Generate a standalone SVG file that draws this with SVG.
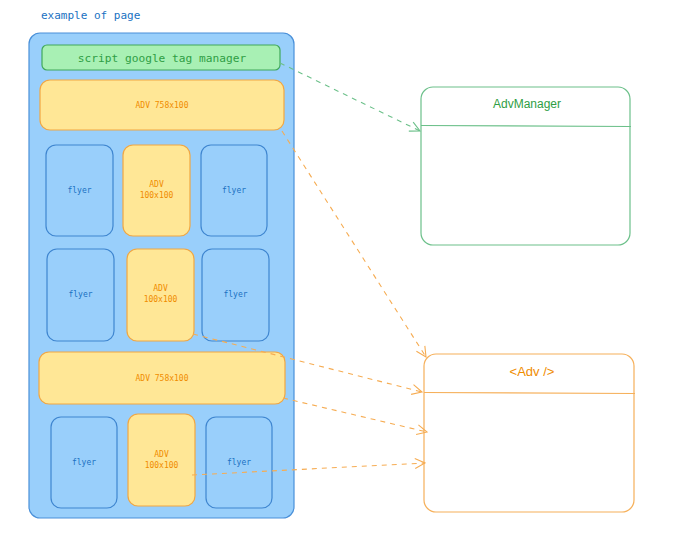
<svg xmlns="http://www.w3.org/2000/svg" width="691" height="547" viewBox="0 0 691 547">
<defs>
<style>
.mono{font-family:"DejaVu Sans Mono","Liberation Mono",monospace;}
.hand{font-family:"Liberation Sans",Arial,sans-serif;}
.page{fill:#99cffb;stroke:#4a90d9;stroke-width:1.2;}
.gtm{fill:#a8f0b4;stroke:#40a85a;stroke-width:1.2;}
.adv{fill:#ffe796;stroke:#f2a742;stroke-width:1.2;}
.fly{fill:#99cffb;stroke:#3f86d0;stroke-width:1.2;}
.lblB{fill:#1971c2;font-size:8px;text-anchor:middle;}
.lblO{fill:#f08c00;font-size:8px;text-anchor:middle;}
.grn{fill:none;stroke:#6cc08a;stroke-width:1.2;}
.org{fill:none;stroke:#f6b05a;stroke-width:1.2;}
.conn-g{fill:none;stroke:#6cc08a;stroke-width:1.1;stroke-dasharray:5 5;}
.conn-o{fill:none;stroke:#f6ac52;stroke-width:1.1;stroke-dasharray:5 5;}
</style>
<marker id="ag" viewBox="0 0 12 12" refX="11" refY="6" markerWidth="12" markerHeight="12" markerUnits="userSpaceOnUse" orient="auto">
<path d="M1,1 L11,6 L1,11" fill="none" stroke="#6cc08a" stroke-width="1.1"/>
</marker>
<marker id="ao" viewBox="0 0 12 12" refX="11" refY="6" markerWidth="12" markerHeight="12" markerUnits="userSpaceOnUse" orient="auto">
<path d="M1,1 L11,6 L1,11" fill="none" stroke="#f6ac52" stroke-width="1.1"/>
</marker>
</defs>
<rect width="691" height="547" fill="#ffffff"/>
<text x="41" y="19" class="mono" font-size="11" fill="#1971c2">example of page</text>
<g id="page">
<rect class="page" x="29" y="33" width="265" height="485" rx="11"/>
</g>
<g id="gtm">
<rect class="gtm" x="42" y="45" width="238" height="25" rx="5"/>
<text class="mono" x="162" y="61.5" font-size="11.2" fill="#2f9e44" text-anchor="middle">script google tag manager</text>
</g>
<g id="adv-top">
<rect class="adv" x="40" y="80" width="244" height="50" rx="10"/>
<text class="mono lblO" x="162" y="108">ADV 758x100</text>
</g>
<g id="flyer-1">
<rect class="fly" x="46" y="145" width="67" height="91" rx="10"/>
<text class="mono lblB" x="79.5" y="193">flyer</text>
</g>
<g id="adv-1">
<rect class="adv" x="123" y="145" width="67" height="91" rx="10"/>
<text class="mono lblO" x="156.5" y="187">ADV</text>
<text class="mono lblO" x="156.5" y="198">100x100</text>
</g>
<g id="flyer-2">
<rect class="fly" x="201" y="145" width="66" height="91" rx="10"/>
<text class="mono lblB" x="234" y="193">flyer</text>
</g>
<g id="flyer-3">
<rect class="fly" x="47" y="249" width="67" height="92" rx="10"/>
<text class="mono lblB" x="80.5" y="297">flyer</text>
</g>
<g id="adv-2">
<rect class="adv" x="127" y="249" width="67" height="92" rx="10"/>
<text class="mono lblO" x="160.5" y="291">ADV</text>
<text class="mono lblO" x="160.5" y="302">100x100</text>
</g>
<g id="flyer-4">
<rect class="fly" x="202" y="249" width="67" height="92" rx="10"/>
<text class="mono lblB" x="235.5" y="297">flyer</text>
</g>
<g id="adv-mid">
<rect class="adv" x="39" y="352" width="246" height="52" rx="10"/>
<text class="mono lblO" x="162" y="381">ADV 758x100</text>
</g>
<g id="flyer-5">
<rect class="fly" x="51" y="417" width="66" height="91" rx="10"/>
<text class="mono lblB" x="84" y="465">flyer</text>
</g>
<g id="adv-3">
<rect class="adv" x="128" y="414" width="67" height="92" rx="10"/>
<text class="mono lblO" x="161.5" y="457">ADV</text>
<text class="mono lblO" x="161.5" y="468">100x100</text>
</g>
<g id="flyer-6">
<rect class="fly" x="206" y="417" width="66" height="91" rx="10"/>
<text class="mono lblB" x="239" y="465">flyer</text>
</g>
<g id="advmanager">
<rect class="grn" x="421" y="87" width="209" height="158" rx="12"/>
<line class="grn" x1="421" y1="125.5" x2="631" y2="126.5"/>
<text class="hand" x="527" y="108" font-size="12" fill="#2f9e44" text-anchor="middle">AdvManager</text>
</g>
<g id="adv-component">
<rect class="org" x="424" y="354" width="210" height="158" rx="12"/>
<line class="org" x1="424" y1="392.5" x2="635" y2="393.5"/>
<text class="hand" x="532" y="376" font-size="13" fill="#f08c00" text-anchor="middle">&lt;Adv /&gt;</text>
</g>
<g id="connectors">
<path class="conn-g" d="M280,63 L420,131" marker-end="url(#ag)"/>
<path class="conn-o" d="M282,131 L426,357" marker-end="url(#ao)"/>
<path class="conn-o" d="M193,334 L422,392" marker-end="url(#ao)"/>
<path class="conn-o" d="M283,398 L427,432" marker-end="url(#ao)"/>
<path class="conn-o" d="M192,475 L425,463" marker-end="url(#ao)"/>
</g>
</svg>
